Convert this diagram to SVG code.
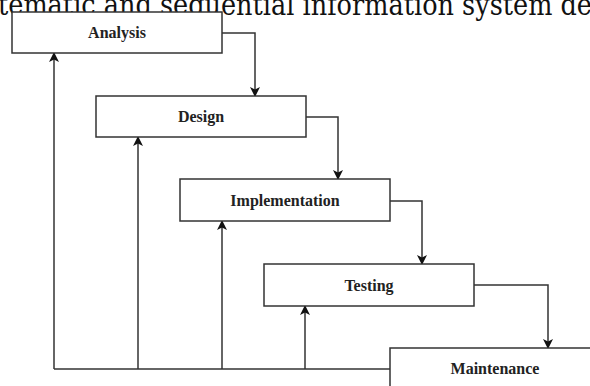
<svg xmlns="http://www.w3.org/2000/svg" width="590" height="386" viewBox="0 0 590 386">
  <defs>
    <marker id="arrow" markerUnits="userSpaceOnUse" markerWidth="10" markerHeight="10" refX="9" refY="5" orient="auto">
      <path d="M0,0 L10,5 L0,10 L2.5,5 z" fill="#111"/>
    </marker>
    <style>
      .box { fill: #fff; stroke: #333; stroke-width: 1.5; }
      .lbl { font-family: "Liberation Serif", "Times New Roman", serif; font-weight: bold; font-size: 16px; fill: #222; text-anchor: middle; }
      .wire { fill: none; stroke: #333; stroke-width: 1.5; }
      .head { font-family: "DejaVu Serif", "Liberation Serif", serif; font-size: 29px; fill: #111; }
    </style>
  </defs>

  <rect width="590" height="386" fill="#fff"/>

  <!-- heading line, clipped by the frame -->
  <text class="head" x="-2" y="15" textLength="594" lengthAdjust="spacingAndGlyphs">tematic and sequential information system de</text>

  <!-- connectors -->
  <g id="connectors">
    <!-- forward flow -->
    <path class="wire" d="M222,33 H255 V96" marker-end="url(#arrow)"/>
    <path class="wire" d="M306,117 H338 V179" marker-end="url(#arrow)"/>
    <path class="wire" d="M390,201 H422 V264" marker-end="url(#arrow)"/>
    <path class="wire" d="M474,285 H548 V348" marker-end="url(#arrow)"/>
    <!-- feedback from maintenance -->
    <path class="wire" d="M390,369 H54"/>
    <path class="wire" d="M54,369 V53" marker-end="url(#arrow)"/>
    <path class="wire" d="M138,369 V137" marker-end="url(#arrow)"/>
    <path class="wire" d="M222,369 V221" marker-end="url(#arrow)"/>
    <path class="wire" d="M305,369 V306" marker-end="url(#arrow)"/>
  </g>

  <g id="analysis">
    <rect class="box" x="12" y="12" width="210" height="41"/>
    <text class="lbl" x="117" y="38">Analysis</text>
  </g>
  <g id="design">
    <rect class="box" x="96" y="96" width="210" height="41"/>
    <text class="lbl" x="201" y="122">Design</text>
  </g>
  <g id="implementation">
    <rect class="box" x="180" y="179" width="210" height="42"/>
    <text class="lbl" x="285" y="206">Implementation</text>
  </g>
  <g id="testing">
    <rect class="box" x="264" y="264" width="210" height="42"/>
    <text class="lbl" x="369" y="291">Testing</text>
  </g>
  <g id="maintenance">
    <rect class="box" x="390" y="348" width="215" height="50"/>
    <text class="lbl" x="495" y="374">Maintenance</text>
  </g>
</svg>
